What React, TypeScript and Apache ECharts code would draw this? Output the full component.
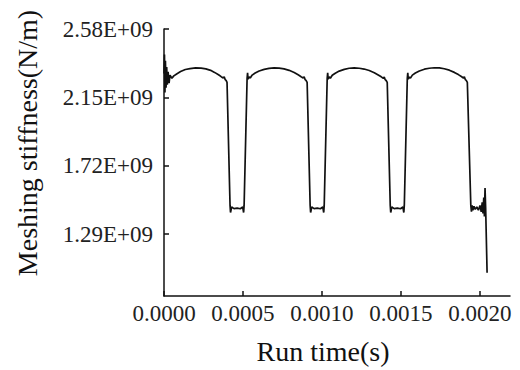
import React, { useEffect, useRef } from "react";
import * as echarts from "echarts";

// time in microseconds, meshing stiffness in 1e9 N/m
const period1: [number, number][] = [
  [0, 2.30], [3, 2.42], [6, 2.18], [9, 2.38], [13, 2.21], [17, 2.34], [21, 2.23], [26, 2.31],
  [32, 2.24], [38, 2.29], [50, 2.27], [62, 2.285], [80, 2.297], [105, 2.312], [135, 2.325],
  [165, 2.331], [200, 2.335], [235, 2.334], [265, 2.329], [295, 2.32], [320, 2.307], [345, 2.292],
  [362, 2.28], [375, 2.272], [381, 2.279], [387, 2.262], [393, 2.257], [399, 2.244],
  [418, 1.47], [421, 1.425], [428, 1.46], [443, 1.45], [463, 1.453], [483, 1.449], [498, 1.46],
  [504, 1.425], [507, 1.47], [526, 2.27], [529, 2.305], [532, 2.265],
];
const period2: [number, number][] = [
  [539, 2.278], [546, 2.272], [558, 2.29], [577, 2.303], [602, 2.316], [634, 2.326], [665, 2.332],
  [697, 2.335], [729, 2.334], [760, 2.329], [792, 2.32], [824, 2.306], [849, 2.292], [868, 2.28],
  [881, 2.272], [887, 2.279], [893, 2.262], [899, 2.257], [906, 2.244],
  [925, 1.47], [928, 1.425], [935, 1.46], [950, 1.45], [970, 1.453], [990, 1.449], [1005, 1.46],
  [1011, 1.425], [1014, 1.47], [1033, 2.27], [1036, 2.305], [1039, 2.265],
];
const period3: [number, number][] = [
  [1046, 2.279], [1053, 2.27], [1065, 2.289], [1084, 2.302], [1109, 2.315], [1141, 2.326],
  [1172, 2.333], [1204, 2.335], [1236, 2.333], [1267, 2.328], [1299, 2.319], [1331, 2.305],
  [1356, 2.291], [1375, 2.279], [1388, 2.27], [1394, 2.278], [1400, 2.261], [1406, 2.256], [1413, 2.244],
  [1432, 1.47], [1435, 1.425], [1442, 1.46], [1457, 1.45], [1477, 1.453], [1497, 1.449], [1512, 1.46],
  [1518, 1.425], [1521, 1.47], [1540, 2.27], [1543, 2.305], [1546, 2.265],
];
const period4: [number, number][] = [
  [1553, 2.278], [1560, 2.271], [1572, 2.29], [1591, 2.303], [1616, 2.316], [1648, 2.327],
  [1679, 2.333], [1711, 2.336], [1743, 2.335], [1774, 2.33], [1806, 2.321], [1838, 2.307],
  [1863, 2.293], [1882, 2.281], [1895, 2.272], [1901, 2.28], [1907, 2.262], [1913, 2.257], [1920, 2.244],
  [1942, 1.47], [1946, 1.43], [1950, 1.47], [1955, 1.44], [1962, 1.465], [1970, 1.445], [1980, 1.46],
  [1990, 1.44], [2000, 1.47], [2008, 1.43], [2014, 1.49], [2019, 1.42], [2024, 1.52], [2028, 1.40],
  [2032, 1.58], [2036, 1.45], [2045, 1.046],
];

const xTicks = [0, 0.0005, 0.001, 0.0015, 0.002];
const yTicks = [1.29, 1.72, 2.15, 2.58]; // 1e9 N/m

const FONT = "'Liberation Serif', 'Times New Roman', serif";

export default function App() {
  const ref = useRef<HTMLDivElement>(null);
  useEffect(() => {
    document.body.style.margin = "0";
    if (!ref.current) return;
    const chart = echarts.init(ref.current, null, { renderer: "svg" });
    const data = [...period1, ...period2, ...period3, ...period4].map(([t, k]) => [t * 1e-6, k * 1e9]);
    const axisLine = { show: true, lineStyle: { color: "#111", width: 1.5 } };
    chart.setOption({
      animation: false,
      backgroundColor: "#fff",
      grid: { left: 164, right: 10, top: 29, bottom: 74 },
      xAxis: {
        type: "value",
        min: 0,
        max: 0.00219,
        axisLine,
        axisTick: { show: true, inside: true, length: 5, lineStyle: { color: "#111", width: 1.5 }, customValues: xTicks },
        axisLabel: {
          customValues: xTicks,
          formatter: (v: number) => v.toFixed(4),
          fontFamily: FONT,
          fontSize: 23,
          color: "#222",
          margin: 6,
        },
        splitLine: { show: false },
      },
      yAxis: {
        type: "value",
        min: 0.9e9,
        max: 2.58e9,
        axisLine,
        axisTick: {
          show: true, inside: true, length: 5, lineStyle: { color: "#111", width: 1.5 },
          customValues: yTicks.map((v) => v * 1e9),
        },
        axisLabel: {
          customValues: yTicks.map((v) => v * 1e9),
          formatter: (v: number) => (v / 1e9).toFixed(2) + "E+09",
          fontFamily: FONT,
          fontSize: 23,
          color: "#222",
          margin: 11,
        },
        splitLine: { show: false },
      },
      graphic: [
        {
          type: "text",
          x: 27,
          y: 143,
          rotation: Math.PI / 2,
          style: {
            text: "Meshing stiffness(N/m)",
            font: `28px ${FONT}`,
            fill: "#111",
            align: "center",
            verticalAlign: "middle",
            textAlign: "center",
            textVerticalAlign: "middle",
          },
        },
        {
          type: "text",
          x: 323,
          y: 351,
          style: {
            text: "Run time(s)",
            font: `28px ${FONT}`,
            fill: "#111",
            align: "center",
            verticalAlign: "middle",
            textAlign: "center",
            textVerticalAlign: "middle",
          },
        },
      ],
      series: [
        {
          type: "line",
          data,
          showSymbol: false,
          symbol: "none",
          lineStyle: { color: "#111", width: 1.7 },
        },
      ],
    });
    return () => chart.dispose();
  }, []);
  return <div ref={ref} style={{ width: 520, height: 370 }} />;
}
